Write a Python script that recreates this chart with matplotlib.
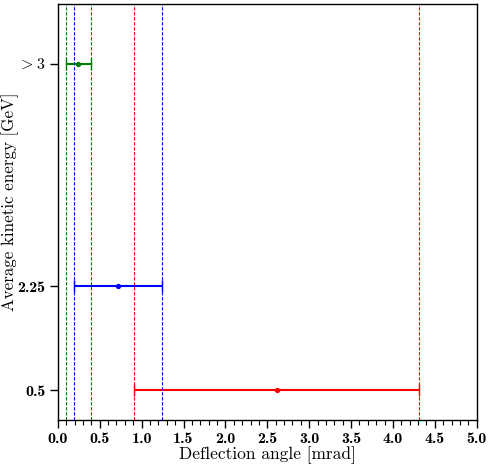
import matplotlib
matplotlib.use("Agg")
import matplotlib.pyplot as plt
from matplotlib.ticker import MultipleLocator, FormatStrFormatter

plt.rcParams['font.family'] = 'serif'
plt.rcParams['font.serif'] = ['cmr10']
plt.rcParams['mathtext.fontset'] = 'cm'
plt.rcParams['axes.formatter.use_mathtext'] = True

# energies (plotting position) and labels
y_pos = [0.5, 2.25, 6.0]
y_labels = ['0.5', '2.25', r'$>3$']

# deflection angle and error (mrad)
angle = [2.61, 0.715, 0.245]
err_lo = [1.70, 0.525, 0.15]
err_hi = [1.70, 0.525, 0.155]
colors = ['red', 'blue', 'green']

fig = plt.figure(figsize=(4.9, 4.65), dpi=100)
ax = fig.add_axes([0.118, 0.097, 0.855, 0.894])

for a, lo, hi, y, c in zip(angle, err_lo, err_hi, y_pos, colors):
    ax.errorbar(a, y, xerr=[[lo], [hi]], fmt='o', color=c, ms=2.8,
                elinewidth=1.5, capsize=4, capthick=1.0)
    ax.axvline(a - lo, color=c, ls='--', lw=0.8, dashes=(3, 1.5))
    ax.axvline(a + hi, color=c, ls='--', lw=0.8, dashes=(3, 1.5))

ax.set_xlim(0, 5)
ax.set_ylim(0, 7)
ax.xaxis.set_major_locator(MultipleLocator(0.5))
ax.xaxis.set_minor_locator(MultipleLocator(0.1))
ax.xaxis.set_major_formatter(FormatStrFormatter('%.1f'))
ax.set_yticks(y_pos)
ax.set_yticklabels(y_labels)
ax.tick_params(which='major', direction='out', length=6, width=1, pad=3)
ax.tick_params(which='minor', direction='out', length=3.5, width=0.8)
for lab in ax.get_xticklabels() + ax.get_yticklabels():
    lab.set_fontfamily('cmb10')
    lab.set_fontsize(11.5)
for s in ax.spines.values():
    s.set_linewidth(1.0)

ax.set_xlabel('Deflection angle [mrad]', fontsize=12.5, labelpad=0)
ax.set_ylabel('Average kinetic energy [GeV]', fontsize=12.2)
ax.yaxis.set_label_coords(-0.092, 0.525)

fig.savefig('out.png', dpi=100)
